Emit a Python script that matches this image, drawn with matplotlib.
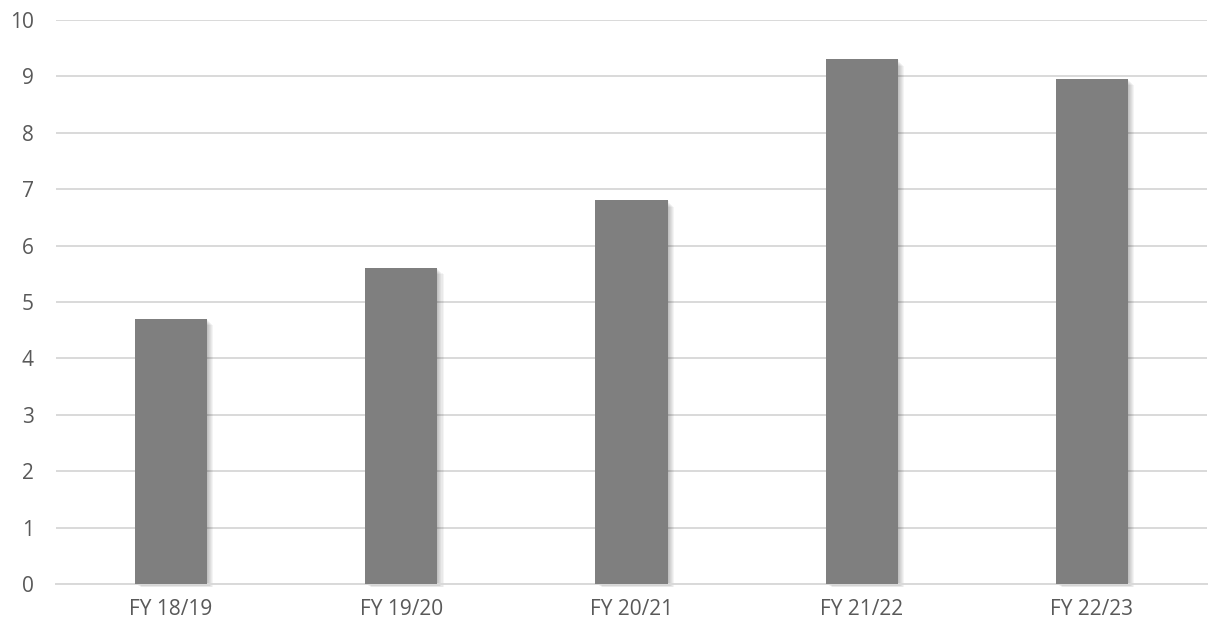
import matplotlib
matplotlib.use("Agg")
import matplotlib.pyplot as plt
from matplotlib.patches import Rectangle

categories = ["FY 18/19", "FY 19/20", "FY 20/21", "FY 21/22", "FY 22/23"]
values = [4.7, 5.6, 6.8, 9.3, 8.95]
yticks = list(range(0, 11))

plt.rcParams["font.family"] = ["Open Sans", "DejaVu Sans"]

fig = plt.figure(figsize=(12.13, 6.27), dpi=100)
ax = fig.add_axes([56 / 1213, 1 - 584 / 627, (1207 - 56) / 1213, (584 - 20) / 627])

x = list(range(len(categories)))
width = 0.313

# soft drop shadow to the lower right of each bar
for xi, v in zip(x, values):
    for k in range(1, 7):
        dx = 0.0045 * k
        dy = 0.03 * k
        ax.add_patch(Rectangle((xi - width / 2 + dx, -dy * 0.3), width, v - dy * 0.3,
                               facecolor="black", alpha=0.045, edgecolor="none",
                               zorder=2, clip_on=False))

ax.bar(x, values, width=width, color="#7f7f7f", zorder=3)

ax.set_xlim(-0.5, len(categories) - 0.5)
ax.set_ylim(0, 10)
ax.set_yticks(yticks)
ax.set_xticks(x)
ax.set_xticklabels(categories)
ax.grid(axis="y", color="#d9d9d9", linewidth=1.4, zorder=0)
ax.set_axisbelow(True)
for s in ["top", "right", "left"]:
    ax.spines[s].set_visible(False)
ax.spines["bottom"].set_color("#d9d9d9")
ax.spines["bottom"].set_linewidth(1.4)
ax.tick_params(axis="both", length=0, labelsize=15, colors="#595959")
ax.tick_params(axis="y", pad=16)
ax.tick_params(axis="x", pad=11)

fig.savefig("out.png", dpi=100, facecolor="white")
